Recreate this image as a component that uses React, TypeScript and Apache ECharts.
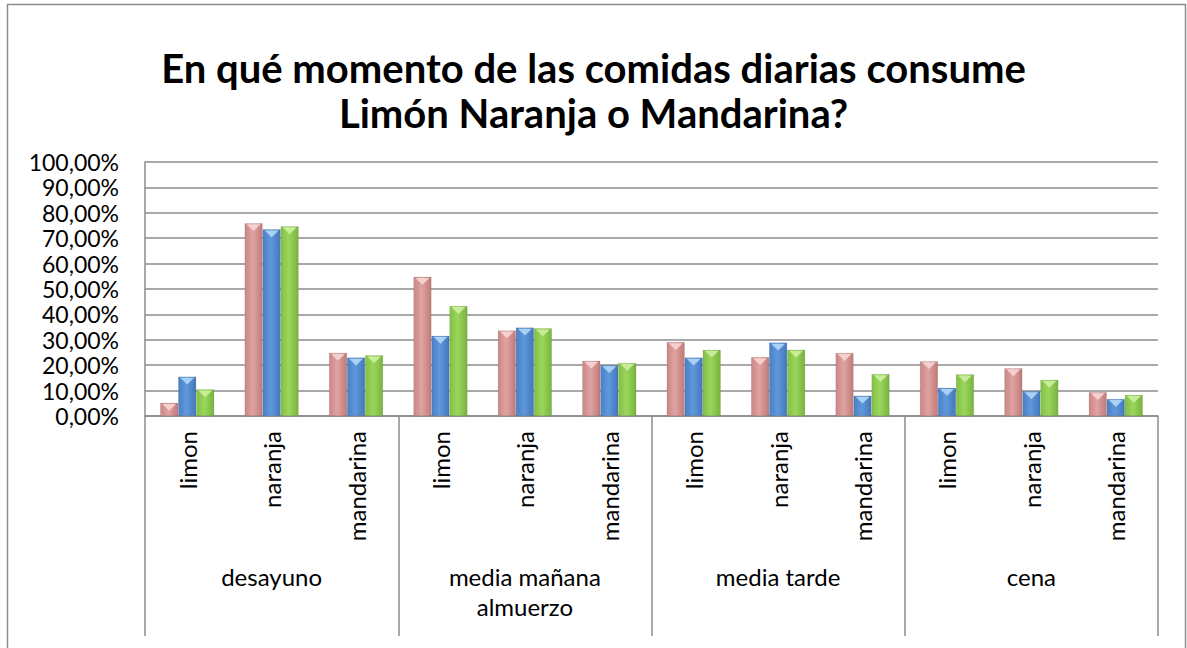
import React, { useEffect, useRef } from "react";
import * as echarts from "echarts";

const subCategories = [
  "limon", "naranja", "mandarina",
  "limon", "naranja", "mandarina",
  "limon", "naranja", "mandarina",
  "limon", "naranja", "mandarina",
];
const groups = ["desayuno", "media mañana\nalmuerzo", "media tarde", "cena"];
const seriesNames = ["Serie1", "Serie2", "Serie3"];
const serie1 = [0.052, 0.759, 0.249, 0.548, 0.337, 0.218, 0.291, 0.232, 0.248, 0.216, 0.188, 0.094];
const serie2 = [0.155, 0.735, 0.23, 0.316, 0.348, 0.2, 0.23, 0.289, 0.08, 0.111, 0.098, 0.067];
const serie3 = [0.105, 0.747, 0.239, 0.433, 0.345, 0.209, 0.261, 0.261, 0.165, 0.164, 0.142, 0.083];
const titleLines = ["En qué momento de las comidas diarias consume", "Limón Naranja o Mandarina?"];

const FONT = "Lato, 'Open Sans', sans-serif";

function grad(edge: string, mid: string, edge2: string) {
  return new echarts.graphic.LinearGradient(0, 0, 1, 0, [
    { offset: 0, color: edge },
    { offset: 0.45, color: mid },
    { offset: 1, color: edge2 },
  ]);
}

export default function App() {
  const ref = useRef<HTMLDivElement>(null);
  useEffect(() => {
    if (!ref.current) return;
    const chart = echarts.init(ref.current, undefined, { renderer: "svg" });
    const colors = [
      grad("#c98684", "#e0a3a1", "#bf7a78"),
      grad("#4a7fc4", "#5f98dc", "#4577ba"),
      grad("#82bf45", "#9bd65c", "#78b33e"),
    ];
    const highlights = ["#f6d6d5", "#b3d8fa", "#cdef9f"];
    const data = [serie1, serie2, serie3];
    const bars = data.map((d, i) => ({
      name: seriesNames[i],
      type: "bar",
      data: d,
      xAxisIndex: 0,
      barGap: "0%",
      barCategoryGap: "36%",
      itemStyle: { color: colors[i], borderColor: "rgba(0,0,0,0.15)", borderWidth: 0.5 },
    }));
    const tops = data.map((d, i) => ({
      name: seriesNames[i] + " bevel",
      type: "pictorialBar",
      data: d,
      xAxisIndex: 0,
      barGap: "0%",
      barCategoryGap: "36%",
      symbol: "triangle",
      symbolRotate: 180,
      symbolPosition: "end",
      symbolSize: [14, 7],
      symbolOffset: [0, 1],
      silent: true,
      z: 5,
      itemStyle: { color: highlights[i], opacity: 0.9 },
    }));
    chart.setOption({
      animation: false,
      backgroundColor: "#ffffff",
      graphic: [
        {
          type: "rect",
          shape: { x: 7.5, y: 4.5, width: 1178, height: 700 },
          style: { fill: "none", stroke: "#8c8c8c", lineWidth: 1.5 },
          silent: true,
        },
        ...titleLines.map((t, i) => ({
          type: "text",
          x: 593.5,
          y: 68 + i * 45,
          silent: true,
          style: {
            text: t,
            fill: "#000000",
            font: `bold 40px ${FONT}`,
            textAlign: "center",
            textVerticalAlign: "middle",
          },
        })),
      ],
      grid: { left: 145, right: 29, top: 162, bottom: 232, containLabel: false },
      xAxis: [
        {
          type: "category",
          data: subCategories,
          position: "bottom",
          axisLine: { show: true, lineStyle: { color: "#8c8c8c", width: 1.5 } },
          axisTick: { show: false },
          axisLabel: {
            interval: 0,
            rotate: 90,
            margin: 15,
            fontFamily: FONT,
            fontSize: 24,
            color: "#000000",
          },
        },
        {
          type: "category",
          data: groups,
          position: "bottom",
          axisLine: { show: false },
          axisTick: {
            show: true,
            length: 220,
            lineStyle: { color: "#8c8c8c", width: 1.5 },
          },
          axisLabel: {
            interval: 0,
            margin: 145,
            fontFamily: FONT,
            fontSize: 24,
            lineHeight: 30,
            color: "#000000",
          },
          splitLine: { show: false },
        },
      ],
      yAxis: {
        type: "value",
        min: 0,
        max: 1,
        interval: 0.1,
        axisLine: { show: true, lineStyle: { color: "#8c8c8c", width: 1.5 } },
        axisTick: { show: false },
        splitLine: { show: true, lineStyle: { color: "#8c8c8c", width: 1.5 } },
        axisLabel: {
          margin: 26,
          fontFamily: FONT,
          fontSize: 23,
          color: "#000000",
          formatter: (v: number) => `${Math.round(v * 100)},00%`,
        },
      },
      series: [...bars, ...tops],
    });
    return () => chart.dispose();
  }, []);
  return (
    <div
      ref={ref}
      style={{ position: "fixed", left: 0, top: 0, width: 1187, height: 648 }}
    />
  );
}
